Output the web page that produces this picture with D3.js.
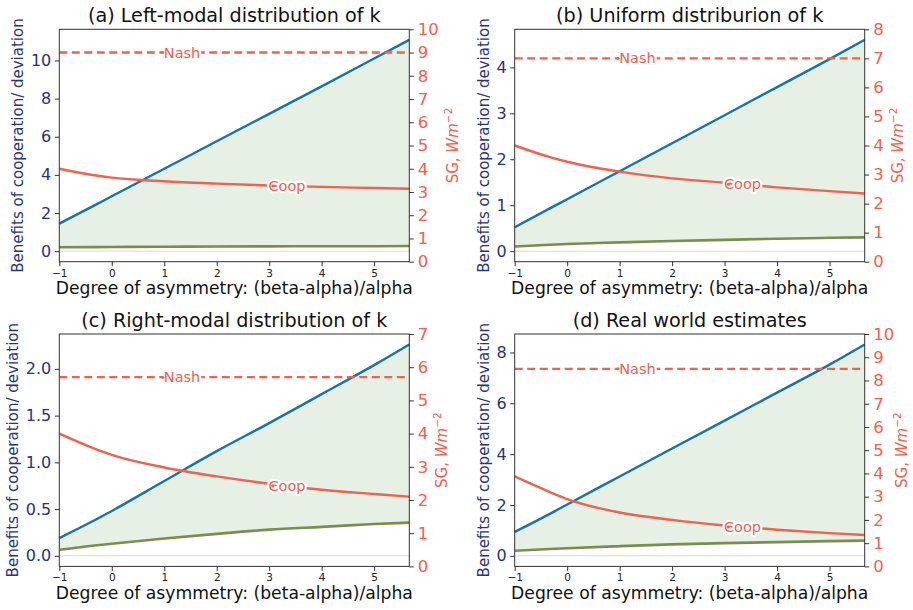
<!DOCTYPE html>
<html>
<head>
<meta charset="utf-8">
<script src="https://cdn.jsdelivr.net/npm/d3@7"></script>
<style>
	body { margin: 0; background: #fff; }
	text { font-family: "DejaVu Sans", sans-serif; }
</style>
</head>
<body>
<script>
'use strict';

// x samples (degree of asymmetry)
const xPoints = [-1, -0.33, 0, 1, 2, 3, 4, 5, 5.67];

const titles = [
	"(a) Left-modal distribution of k",
	"(b) Uniform distriburion of k",
	"(c) Right-modal distribution of k",
	"(d) Real world estimates"
];

// left axis: benefits of cooperation (blue) and deviation (green)
const benefitA = [1.44, 2.4, 2.88, 4.32, 5.76, 7.2, 8.64, 10.1, 11.08];
const deviationA = [0.2, 0.21, 0.22, 0.23, 0.24, 0.25, 0.26, 0.26, 0.27];
const benefitB = [0.52, 0.93, 1.13, 1.74, 2.35, 2.96, 3.57, 4.18, 4.6];
const deviationB = [0.1, 0.14, 0.155, 0.19, 0.22, 0.245, 0.27, 0.29, 0.3];
const benefitC = [0.19, 0.38, 0.48, 0.8, 1.12, 1.42, 1.73, 2.04, 2.26];
const deviationC = [0.064, 0.11, 0.13, 0.185, 0.235, 0.28, 0.31, 0.34, 0.355];
const benefitD = [0.94, 1.65, 2.02, 3.12, 4.22, 5.32, 6.42, 7.52, 8.31];
const deviationD = [0.2, 0.27, 0.3, 0.38, 0.45, 0.5, 0.54, 0.58, 0.6];

// right axis: SG (W m^-2)
const coopA = [4.0, 3.72, 3.62, 3.46, 3.36, 3.28, 3.22, 3.17, 3.14];
const coopB = [4.0, 3.6, 3.44, 3.1, 2.87, 2.72, 2.56, 2.43, 2.35];
const coopC = [4.0, 3.55, 3.36, 2.98, 2.71, 2.49, 2.31, 2.18, 2.1];
const coopD = [3.87, 3.2, 2.9, 2.32, 2.0, 1.76, 1.58, 1.43, 1.35];
const nashValues = [9, 7, 5.7, 8.5];
const sgMax = [10, 8, 7, 10];

const leftTicks = [
	[0, 2, 4, 6, 8, 10],
	[0, 1, 2, 3, 4],
	[0, 0.5, 1, 1.5, 2],
	[0, 2, 4, 6, 8]
];
const leftFormats = [".0f", ".0f", ".1f", ".0f"];
const xTicks = [-1, 0, 1, 2, 3, 4, 5];
const xDomain = [-1, 5.67];

const params = {
	width: 913,
	height: 610,
	plotW: 350,
	plotH: 232.4,
	lefts: [59.3, 514.7],
	tops: [29.3, 334]
};

const colors = {
	navy: "#27347a",
	red: "#f0614f",
	blue: "#1874a6",
	green: "#7a8d4c",
	fill: "#e6f0e4",
	zero: "#d9d9d9",
	spine: "#333"
};

const panels = [
	{ benefit: benefitA, deviation: deviationA, coop: coopA },
	{ benefit: benefitB, deviation: deviationB, coop: coopB },
	{ benefit: benefitC, deviation: deviationC, coop: coopC },
	{ benefit: benefitD, deviation: deviationD, coop: coopD }
].map((p, i) => Object.assign(p, {
	title: titles[i],
	nash: nashValues[i],
	sgMax: sgMax[i],
	leftTicks: leftTicks[i],
	leftFormat: leftFormats[i],
	left: params.lefts[i % 2],
	top: params.tops[Math.floor(i / 2)]
}));

const svg = d3.select("body").append("svg")
	.attr("width", params.width)
	.attr("height", params.height);

// value of a series at x (straight-line between samples)
const valueAt = (vals, xv) => {
	const i = Math.min(d3.bisectRight(xPoints, xv), xPoints.length - 1);
	const t = (xv - xPoints[i - 1]) / (xPoints[i] - xPoints[i - 1]);
	return vals[i - 1] + t * (vals[i] - vals[i - 1]);
}

const addLabel = (g, text, tx, ty, dotX, dotY) => {
	g.append("text")
		.attr("x", tx).attr("y", ty)
		.attr("text-anchor", "middle")
		.attr("dominant-baseline", "central")
		.attr("font-size", 14.5)
		.attr("fill", colors.red)
		.attr("stroke", "#fff")
		.attr("stroke-width", 4.5)
		.attr("stroke-linejoin", "round")
		.attr("paint-order", "stroke")
		.text(text);
	g.append("circle")
		.attr("cx", dotX).attr("cy", dotY)
		.attr("r", 1.5)
		.attr("fill", colors.red);
}

const drawPanel = (p) => {
	const W = params.plotW, H = params.plotH;
	const g = svg.append("g")
		.attr("transform", `translate(${p.left},${p.top})`);

	const x = d3.scaleLinear().domain(xDomain).range([0, W]);
	const hi = d3.max(p.benefit);
	const pad = hi * 0.05;
	const yL = d3.scaleLinear().domain([-pad, hi + pad]).range([H, 0]);
	const yR = d3.scaleLinear().domain([0, p.sgMax]).range([H, 0]);

	const rows = xPoints.map((xv, i) => ({
		x: xv, b: p.benefit[i], d: p.deviation[i], c: p.coop[i]
	}));

	// shaded band between deviation and benefit
	g.append("path")
		.datum(rows)
		.attr("fill", colors.fill)
		.attr("d", d3.area()
			.curve(d3.curveMonotoneX)
			.x(d => x(d.x))
			.y0(d => yL(d.d))
			.y1(d => yL(d.b)));

	g.append("line")
		.attr("x1", 0).attr("x2", W)
		.attr("y1", yL(0)).attr("y2", yL(0))
		.attr("stroke", colors.zero)
		.attr("stroke-width", 1);

	const lineL = key => d3.line().curve(d3.curveMonotoneX)
		.x(d => x(d.x)).y(d => yL(d[key]));

	g.append("path").datum(rows)
		.attr("fill", "none").attr("stroke", colors.green)
		.attr("stroke-width", 2.6)
		.attr("d", lineL("d"));

	g.append("path").datum(rows)
		.attr("fill", "none").attr("stroke", colors.blue)
		.attr("stroke-width", 2.4)
		.attr("d", lineL("b"));

	// right axis series
	g.append("line")
		.attr("x1", 0).attr("x2", W)
		.attr("y1", yR(p.nash)).attr("y2", yR(p.nash))
		.attr("stroke", colors.red)
		.attr("stroke-width", 2.4)
		.attr("stroke-dasharray", "8,4.5");

	g.append("path").datum(rows)
		.attr("fill", "none").attr("stroke", colors.red)
		.attr("stroke-width", 2.4)
		.attr("d", d3.line().curve(d3.curveMonotoneX)
			.x(d => x(d.x)).y(d => yR(d.c)));

	addLabel(g, "Nash", x(1.34), yR(p.nash), x(0.97), yR(p.nash));
	addLabel(g, "Coop", x(3.34), yR(valueAt(p.coop, 3.34)),
		x(3.07), yR(valueAt(p.coop, 3.34)));

	// axes
	const axL = g.append("g")
		.call(d3.axisLeft(yL).tickValues(p.leftTicks)
			.tickFormat(d3.format(p.leftFormat))
			.tickSize(4.5).tickPadding(3.5));
	axL.select(".domain").remove();
	axL.selectAll("line").attr("stroke", colors.spine);
	axL.selectAll("text").attr("font-size", 16).attr("fill", colors.navy)
		.attr("font-family", "DejaVu Sans");

	const axR = g.append("g")
		.attr("transform", `translate(${W},0)`)
		.call(d3.axisRight(yR).tickValues(d3.range(0, p.sgMax + 1))
			.tickFormat(d3.format("d"))
			.tickSize(4.5).tickPadding(4));
	axR.select(".domain").remove();
	axR.selectAll("line").attr("stroke", colors.spine);
	axR.selectAll("text").attr("font-size", 16.5).attr("fill", colors.red)
		.attr("font-family", "DejaVu Sans");

	const axB = g.append("g")
		.attr("transform", `translate(0,${H})`)
		.call(d3.axisBottom(x).tickValues(xTicks)
			.tickFormat(d3.format("d"))
			.tickSize(4.5).tickPadding(3));
	axB.select(".domain").remove();
	axB.selectAll("line").attr("stroke", colors.spine);
	axB.selectAll("text").attr("font-size", 10.5).attr("fill", "#222")
		.attr("font-family", "DejaVu Sans");

	// frame
	g.append("rect")
		.attr("width", W).attr("height", H)
		.attr("fill", "none")
		.attr("stroke", colors.spine)
		.attr("stroke-width", 1);

	// titles and axis labels
	g.append("text")
		.attr("x", W / 2).attr("y", -7.3)
		.attr("text-anchor", "middle")
		.attr("font-size", 19.2)
		.attr("fill", "#111")
		.text(p.title);

	g.append("text")
		.attr("x", W / 2).attr("y", H + 32.5)
		.attr("text-anchor", "middle")
		.attr("font-size", 17.2)
		.attr("fill", "#111")
		.text("Degree of asymmetry: (beta-alpha)/alpha");

	const lb = axL.node().getBBox();
	g.append("text")
		.attr("transform", `translate(${lb.x - 8},${H / 2}) rotate(-90)`)
		.attr("text-anchor", "middle")
		.attr("font-size", 15)
		.attr("fill", colors.navy)
		.text("Benefits of cooperation/ deviation");

	const rb = axR.node().getBBox();
	const rx = Math.min(W + rb.x + rb.width + 19, params.width - 6 - p.left);
	const rl = g.append("text")
		.attr("transform", `translate(${rx},${H / 2}) rotate(-90)`)
		.attr("text-anchor", "middle")
		.attr("font-size", 15)
		.attr("fill", colors.red);
	rl.append("tspan").text("SG, ");
	rl.append("tspan").attr("font-style", "italic").text("Wm");
	rl.append("tspan").attr("font-size", 10.5).attr("dy", -6).text("\u22122");
}

panels.forEach(drawPanel);
</script>
</body>
</html>
